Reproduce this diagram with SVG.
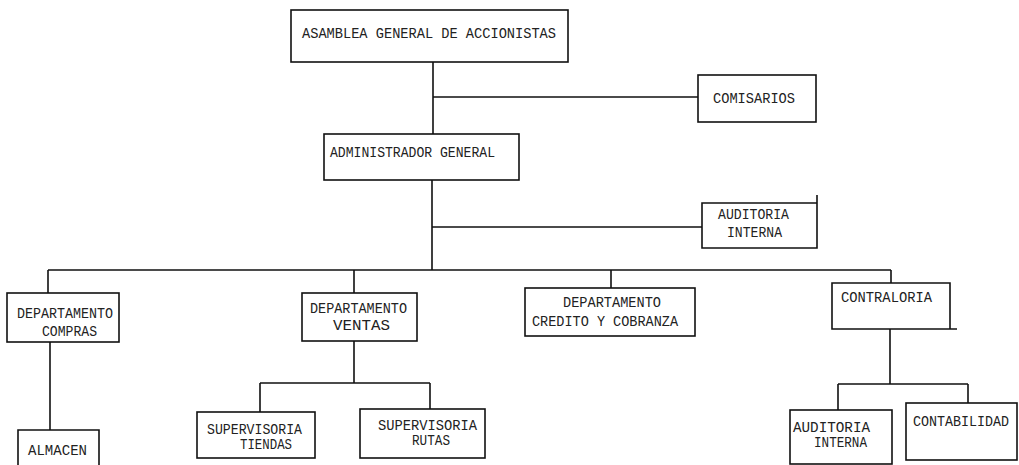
<svg xmlns="http://www.w3.org/2000/svg" width="1019" height="465" viewBox="0 0 1019 465">
<style>
.box{fill:none;stroke:#111;stroke-width:1.6}
.ln{fill:none;stroke:#111;stroke-width:1.6}
text{font-family:"Liberation Mono","DejaVu Sans Mono",monospace;font-size:14px;fill:#222}
</style>
<rect width="1019" height="465" fill="#fff"/>
<g id="connectors">
<path class="ln" d="M433,62 V134 M433,97 H698"/>
<path class="ln" d="M432,180 V270 M432,227 H702"/>
<path class="ln" d="M48,270 H891 M48,270 V293 M354,270 V293 M611,270 V288 M891,270 V283"/>
<path class="ln" d="M50,342 V430"/>
<path class="ln" d="M354,341 V383 M260,383 H430 M260,383 V412 M430,383 V409"/>
<path class="ln" d="M890,329 V384 M838,384 H968 M838,384 V410 M968,384 V403"/>
</g>
<g id="asamblea">
<rect class="box" x="291" y="10" width="277" height="52"/>
<text x="302" y="38" textLength="254" lengthAdjust="spacingAndGlyphs">ASAMBLEA GENERAL DE ACCIONISTAS</text>
</g>
<g id="comisarios">
<rect class="box" x="698" y="75" width="118" height="47"/>
<text x="713" y="103" textLength="82" lengthAdjust="spacingAndGlyphs">COMISARIOS</text>
</g>
<g id="administrador">
<rect class="box" x="324" y="134" width="195" height="46"/>
<text x="330" y="157" textLength="165" lengthAdjust="spacingAndGlyphs">ADMINISTRADOR GENERAL</text>
</g>
<g id="auditoria-top">
<path class="box" d="M702,203 H817 V248 H702 Z M817,203 V195"/>
<text x="718" y="219" textLength="71" lengthAdjust="spacingAndGlyphs">AUDITORIA</text>
<text x="727" y="237" textLength="55" lengthAdjust="spacingAndGlyphs">INTERNA</text>
</g>
<g id="compras">
<rect class="box" x="7" y="293" width="112" height="49"/>
<text x="17" y="318" textLength="96" lengthAdjust="spacingAndGlyphs">DEPARTAMENTO</text>
<text x="42" y="336" textLength="55" lengthAdjust="spacingAndGlyphs">COMPRAS</text>
</g>
<g id="ventas">
<rect class="box" x="302" y="293" width="115" height="48"/>
<text x="310" y="313" textLength="97" lengthAdjust="spacingAndGlyphs">DEPARTAMENTO</text>
<text x="333" y="330" textLength="57" lengthAdjust="spacingAndGlyphs">VENTAS</text>
</g>
<g id="credito">
<rect class="box" x="525" y="288" width="170" height="48"/>
<text x="563" y="307" textLength="98" lengthAdjust="spacingAndGlyphs">DEPARTAMENTO</text>
<text x="532" y="326" textLength="146" lengthAdjust="spacingAndGlyphs">CREDITO Y COBRANZA</text>
</g>
<g id="contraloria">
<path class="box" d="M832,283 H950 V329 H832 Z M950,329 H957"/>
<text x="841" y="302" textLength="91" lengthAdjust="spacingAndGlyphs">CONTRALORIA</text>
</g>
<g id="almacen">
<path class="box" d="M18,470 V430 H99 V470"/>
<text x="28" y="455" textLength="59" lengthAdjust="spacingAndGlyphs">ALMACEN</text>
</g>
<g id="sup-tiendas">
<rect class="box" x="197" y="412" width="118" height="46"/>
<text x="207" y="434" textLength="95" lengthAdjust="spacingAndGlyphs">SUPERVISORIA</text>
<text x="240" y="449" textLength="52" lengthAdjust="spacingAndGlyphs">TIENDAS</text>
</g>
<g id="sup-rutas">
<rect class="box" x="360" y="409" width="125" height="49"/>
<text x="378" y="430" textLength="99" lengthAdjust="spacingAndGlyphs">SUPERVISORIA</text>
<text x="412" y="445" textLength="38" lengthAdjust="spacingAndGlyphs">RUTAS</text>
</g>
<g id="auditoria-bottom">
<rect class="box" x="790" y="410" width="102" height="54"/>
<text x="793" y="432" textLength="77" lengthAdjust="spacingAndGlyphs">AUDITORIA</text>
<text x="814" y="447" textLength="53" lengthAdjust="spacingAndGlyphs">INTERNA</text>
</g>
<g id="contabilidad">
<rect class="box" x="906" y="403" width="111" height="57"/>
<text x="913" y="426" textLength="96" lengthAdjust="spacingAndGlyphs">CONTABILIDAD</text>
</g>
</svg>
